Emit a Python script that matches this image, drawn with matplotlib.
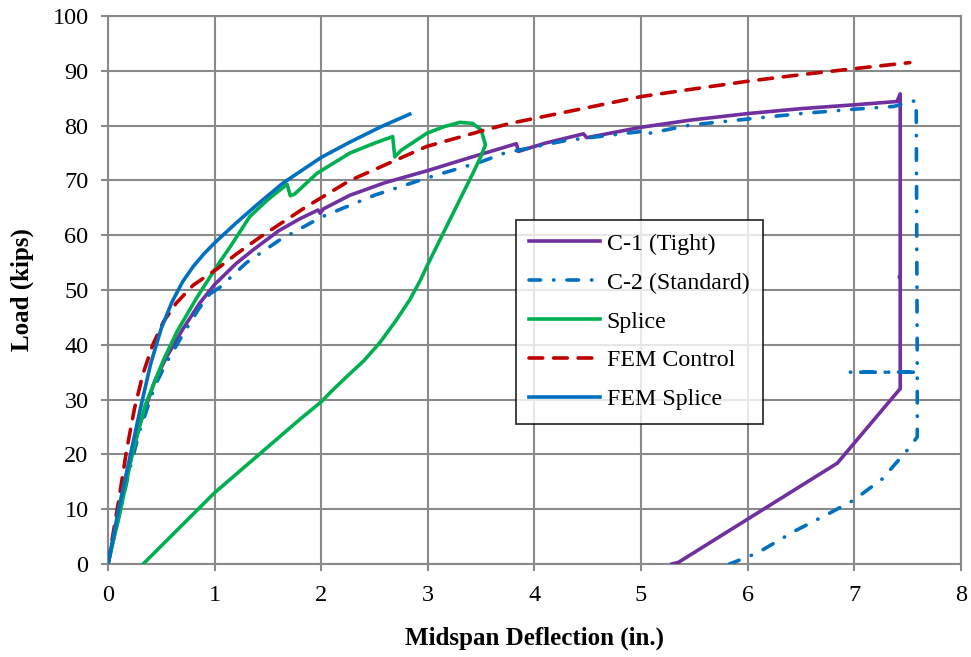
import matplotlib
matplotlib.use("Agg")
import matplotlib.pyplot as plt

# Load–deflection data (deflection in inches, load in kips)
c1_x = [0, 0.1, 0.2, 0.3, 0.44, 0.55, 0.7, 0.86, 1.0, 1.2, 1.36, 1.6, 1.8, 1.97, 1.99, 2.02,
        2.27, 2.6, 3.0, 3.4, 3.83, 3.85, 4.1, 4.46, 4.49, 5.0, 5.46, 6.0, 6.5, 7.0, 7.4,
        7.43, 7.43, 7.42, 7.43, 7.43, 6.84, 5.35, 5.29]
c1_y = [0, 9, 18, 25.5, 33.5, 37.8, 42.8, 47.6, 51, 54.8, 57.3, 60.8, 63, 64.6, 64.0, 64.8,
        67.3, 69.6, 71.8, 74.2, 76.7, 75.3, 76.8, 78.5, 77.8, 79.7, 81.0, 82.2, 83.1, 83.8, 84.4,
        85.8, 52.6, 52.4, 52.2, 32, 18.4, 0.3, 0]

c2_x = [0, 0.1, 0.2, 0.3, 0.44, 0.55, 0.7, 0.85, 0.98, 0.95, 1.05, 1.3, 1.6, 2.0, 2.5,
        3.0, 3.5, 3.72, 4.3, 4.99, 5.0, 5.46, 6.0, 6.5, 7.0, 7.37, 7.58, 7.59, 6.95, 7.59,
        7.59, 7.52, 7.26, 6.99, 6.77, 6.43, 6.09, 5.83]
c2_y = [0, 8.5, 17, 24.5, 32.5, 36.8, 41.8, 46.5, 50, 49.2, 50.5, 55, 59, 63.3, 67.3,
        70.5, 73.4, 75, 77.3, 78.9, 78.3, 80.1, 81.2, 82.2, 83.0, 83.5, 84.6, 35, 35, 35,
        23.2, 21.3, 15.5, 11.6, 9.3, 5.9, 2, 0]

splice_x = [0, 0.12, 0.235, 0.35, 0.52, 0.65, 0.83, 1.02, 1.15, 1.33, 1.5, 1.68, 1.71, 1.75,
            1.96, 2.27, 2.5, 2.67, 2.69, 2.75, 2.99, 3.15, 3.3, 3.42, 3.5, 3.54, 3.5, 3.44,
            2.99, 2.93, 2.83, 2.7, 2.55, 2.4, 2.24, 2.1, 2.0, 1.8, 1.0, 0.33]
splice_y = [0, 10, 20.8, 29, 37.2, 42.5, 48.5, 54.3, 58, 63.4, 66.5, 69.3, 67.2, 67.5,
            71.3, 75, 76.8, 78, 74.3, 75.5, 78.6, 79.8, 80.6, 80.4, 79.2, 76.5, 74.5, 72,
            54.3, 51.8, 48.2, 44.4, 40.4, 37.1, 34.2, 31.6, 29.6, 26.4, 13, 0]

fem_ctrl_x = [0, 0.1, 0.175, 0.25, 0.33, 0.42, 0.52, 0.64, 0.8, 1.02, 1.2, 1.43, 1.86,
              2.27, 2.99, 3.5, 3.77, 4.5, 5.0, 5.46, 6.0, 6.5, 7.0, 7.52]
fem_ctrl_y = [0, 11.5, 20.8, 28.5, 34.8, 40, 44.2, 47.6, 50.9, 53.8, 56.5, 59.7, 65.2,
              70, 76.2, 79, 80.4, 83.3, 85.3, 86.6, 88.1, 89.3, 90.4, 91.5]

fem_splice_x = [0, 0.1, 0.2, 0.3, 0.4, 0.5, 0.6, 0.7, 0.8, 0.9, 1.0, 1.2, 1.4, 1.64, 2.0,
                2.27, 2.55, 2.83]
fem_splice_y = [0, 10, 19, 28, 36.5, 43, 47.8, 51.5, 54.3, 56.6, 58.6, 62.2, 65.6, 69.5,
                74.2, 77, 79.7, 82.1]

x_ticks = list(range(0, 9))
y_ticks = list(range(0, 101, 10))

plt.rcParams['font.family'] = ['Liberation Serif', 'DejaVu Serif']

fig = plt.figure(figsize=(9.71, 6.57), dpi=100)
ax = fig.add_axes([0.1112, 0.1416, 0.8785, 0.834])

lw = 2.6
ax.plot(c1_x, c1_y, color='#7030A0', lw=lw, label='C-1 (Tight)', solid_joinstyle='round',
        zorder=3)
ax.plot(c2_x, c2_y, color='#0070C0', lw=lw, label='C-2 (Standard)',
        linestyle=(0, (3.2, 3.6, 0.1, 3.6)), dash_capstyle='round', zorder=3)
ax.plot(splice_x, splice_y, color='#00B050', lw=lw, label='Splice', solid_joinstyle='round',
        zorder=3)
ax.plot(fem_ctrl_x, fem_ctrl_y, color='#C00000', lw=lw, label='FEM Control',
        linestyle=(0, (3.8, 3.0)), dash_capstyle='round', zorder=3)
ax.plot(fem_splice_x, fem_splice_y, color='#0070C0', lw=lw, label='FEM Splice',
        solid_joinstyle='round', zorder=3)

ax.set_xlim(0, 8)
ax.set_ylim(0, 100)
ax.set_xticks(x_ticks)
ax.set_yticks(y_ticks)
ax.grid(True, color='#8a8a8a', lw=1.5, zorder=0)
ax.set_axisbelow(True)
for s in ax.spines.values():
    s.set_color('#8a8a8a')
    s.set_linewidth(1.5)
ax.tick_params(axis='both', direction='out', length=5, width=1.5, color='#8a8a8a',
               labelsize=17.5)
ax.tick_params(axis='x', pad=10)
ax.tick_params(axis='y', pad=9)

ax.set_xlabel('Midspan Deflection (in.)', fontsize=18, fontweight='bold', labelpad=15)
ax.set_ylabel('Load (kips)', fontsize=18, fontweight='bold', labelpad=13)

leg = ax.legend(loc='upper left', bbox_to_anchor=(0.4783, 0.628), borderaxespad=0,
                prop={'size': 17.2}, frameon=True, fancybox=False, handlelength=2.95,
                handletextpad=0.3, labelspacing=0.72, borderpad=0.55)
leg.get_frame().set_edgecolor('black')
leg.get_frame().set_linewidth(1.3)

fig.savefig('out.png', dpi=100)
